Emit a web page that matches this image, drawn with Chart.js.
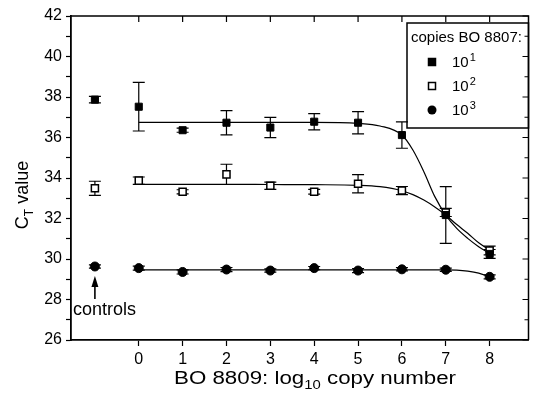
<!DOCTYPE html>
<html>
<head>
<meta charset="utf-8">
<script src="https://cdn.jsdelivr.net/npm/chart.js@4/dist/chart.umd.min.js"></script>
<style>
  body { margin: 0; background: #fff; }
  canvas { display: block; }
</style>
</head>
<body>
<canvas id="ctChart" width="535" height="403"></canvas>
<script>
// x = -1 is the "controls" column, 0..8 = log10 copy number of BO 8809
const doseX = [-1, 0, 1, 2, 3, 4, 5, 6, 7, 8];
const xTickValues = [0, 1, 2, 3, 4, 5, 6, 7, 8];

// measured CT values (copies BO 8807: 10^1, 10^2, 10^3)
const ct10 = [37.87, 37.52, 36.36, 36.73, 36.49, 36.78, 36.73, 36.12, 32.17, 30.25];
const err10 = [0.16, 1.2, 0.1, 0.6, 0.5, 0.4, 0.55, 0.65, 1.4, 0.22];
const ct100 = [33.49, 33.87, 33.32, 34.18, 33.62, 33.32, 33.72, 33.38, 32.3, 30.42];
const err100 = [0.35, 0.18, 0.1, 0.5, 0.18, 0.12, 0.45, 0.2, 0.2, 0.22];
const ct1000 = [29.63, 29.55, 29.36, 29.48, 29.43, 29.55, 29.43, 29.49, 29.47, 29.12];
const err1000 = [0.08, 0.1, 0.1, 0.1, 0.08, 0.08, 0.1, 0.08, 0.08, 0.1];

// fitted curves
const fitX = [0, 1, 2, 3, 4, 5, 5.5, 6, 6.25, 6.5, 6.75, 7, 7.25, 7.5, 7.75, 8];
const fit10 = [36.75, 36.75, 36.75, 36.75, 36.75, 36.7, 36.57, 36.12, 35.38, 34.31, 33.08, 32.17, 31.51, 31.02, 30.61, 30.28];
const fit100 = [33.69, 33.69, 33.69, 33.68, 33.67, 33.64, 33.57, 33.37, 33.18, 32.91, 32.57, 32.17, 31.7, 31.27, 30.8, 30.44];
const fit1000 = [29.46, 29.46, 29.46, 29.46, 29.46, 29.46, 29.46, 29.46, 29.46, 29.46, 29.46, 29.46, 29.45, 29.4, 29.3, 29.12];

const yTickValues = [];
for (let v = 26; v <= 42; v++) yTickValues.push(v);

const legendLabels = ['1', '2', '3']; // superscripts of 10

const FONT = '"Liberation Sans", Arial, Helvetica, sans-serif';

function pts(xs, ys) {
    return xs.map((x, i) => ({ x: x, y: ys[i] }));
}

const errorSets = [
    { vals: ct10, errs: err10 },
    { vals: ct100, errs: err100 },
    { vals: ct1000, errs: err1000 },
];

function drawMarker(ctx, kind, x, y) {
    ctx.lineWidth = 1.5;
    ctx.strokeStyle = '#000';
    if (kind === 'circle') {
        ctx.beginPath();
        ctx.arc(x, y, 4.5, 0, Math.PI * 2);
        ctx.fillStyle = '#000';
        ctx.fill();
    } else {
        ctx.fillStyle = kind === 'open' ? '#fff' : '#000';
        ctx.fillRect(x - 3.5, y - 3.5, 7, 7);
        ctx.strokeRect(x - 3.5, y - 3.5, 7, 7);
    }
}

// legend box goes under the data, error bars too
const underlay = {
    id: 'underlay',
    beforeDatasetsDraw(chart) {
        const ctx = chart.ctx;
        const a = chart.chartArea;
        const xs = chart.scales.x, ys = chart.scales.y;
        ctx.save();

        // legend
        const lx = 407, ly = 23, lw = a.right - 407, lh = 105;
        ctx.strokeStyle = '#000';
        ctx.lineWidth = 1.5;
        ctx.strokeRect(lx, ly, lw, lh);
        ctx.fillStyle = '#000';
        ctx.font = '15px ' + FONT;
        ctx.textBaseline = 'alphabetic';
        ctx.textAlign = 'left';
        ctx.fillText('copies BO 8807:', 411, 42);
        const kinds = ['filled', 'open', 'circle'];
        const rowY = [62, 86, 110];
        kinds.forEach((k, i) => {
            drawMarker(ctx, k, 432, rowY[i]);
            ctx.fillStyle = '#000';
            ctx.font = '15px ' + FONT;
            ctx.fillText('10', 452, rowY[i] + 5);
            const w = ctx.measureText('10').width;
            ctx.font = '11px ' + FONT;
            ctx.fillText(legendLabels[i], 452 + w + 1, rowY[i] - 1);
        });

        // error bars
        ctx.strokeStyle = '#000';
        ctx.lineWidth = 1.2;
        errorSets.forEach(set => {
            set.vals.forEach((v, i) => {
                const px = xs.getPixelForValue(doseX[i]);
                const top = ys.getPixelForValue(v + set.errs[i]);
                const bot = ys.getPixelForValue(v - set.errs[i]);
                ctx.beginPath();
                ctx.moveTo(px, top); ctx.lineTo(px, bot);
                ctx.moveTo(px - 6, top); ctx.lineTo(px + 6, top);
                ctx.moveTo(px - 6, bot); ctx.lineTo(px + 6, bot);
                ctx.stroke();
            });
        });
        ctx.restore();
    }
};

function drawParts(ctx, parts, x, y, targetWidth) {
    let total = 0;
    parts.forEach(p => { ctx.font = p[1] + 'px ' + FONT; total += ctx.measureText(p[0]).width; });
    const k = targetWidth ? targetWidth / total : 1;
    ctx.save();
    ctx.translate(x, y);
    ctx.scale(k, 1);
    let tx = -total / 2;
    parts.forEach(p => {
        ctx.font = p[1] + 'px ' + FONT;
        ctx.fillText(p[0], tx, p[2]);
        tx += ctx.measureText(p[0]).width;
    });
    ctx.restore();
}

const decorations = {
    id: 'decorations',
    afterDraw(chart) {
        const ctx = chart.ctx;
        const a = chart.chartArea;
        const xs = chart.scales.x, ys = chart.scales.y;
        ctx.save();
        ctx.strokeStyle = '#000';
        ctx.fillStyle = '#000';

        // top and right frame with inward ticks
        ctx.lineWidth = 1.5;
        ctx.beginPath();
        ctx.moveTo(a.left, a.top); ctx.lineTo(a.right, a.top); ctx.lineTo(a.right, a.bottom);
        ctx.stroke();
        ctx.lineWidth = 1.2;
        ctx.beginPath();
        xTickValues.forEach(v => {
            const px = xs.getPixelForValue(v);
            ctx.moveTo(px, a.top); ctx.lineTo(px, a.top + 6);
        });
        yTickValues.forEach(v => {
            const py = ys.getPixelForValue(v);
            const len = v % 2 === 0 ? 6 : 4;
            ctx.moveTo(a.right, py); ctx.lineTo(a.right - len, py);
        });
        ctx.stroke();

        // "controls" arrow and label
        const cx = xs.getPixelForValue(-1);
        ctx.lineWidth = 1.6;
        ctx.beginPath();
        ctx.moveTo(cx, 299); ctx.lineTo(cx, 283);
        ctx.stroke();
        ctx.beginPath();
        ctx.moveTo(cx, 276); ctx.lineTo(cx - 3.5, 287); ctx.lineTo(cx + 3.5, 287);
        ctx.closePath();
        ctx.fill();
        ctx.font = '18px ' + FONT;
        ctx.textAlign = 'left';
        ctx.fillText('controls', 73, 315);

        // y title: C_T value
        ctx.save();
        ctx.translate(28, 195);
        ctx.rotate(-Math.PI / 2);
        drawParts(ctx, [['C', 18, 0], ['T', 12, 5], [' value', 18, 0]], 0, 0, 0);
        ctx.restore();

        // x title: BO 8809: log10 copy number
        drawParts(ctx, [['BO 8809: log', 18, 0], ['10', 12, 5], [' copy number', 18, 0]], 315, 384, 282);
        ctx.restore();
    }
};

const ctx = document.getElementById('ctChart').getContext('2d');
const chart = new Chart(ctx, {
    type: 'scatter',
    data: {
        datasets: [
            {
                label: '10^1',
                data: pts(doseX, ct10),
                pointStyle: 'rect',
                pointRadius: 5,
                backgroundColor: '#000',
                borderColor: '#000',
                borderWidth: 1,
            },
            {
                label: '10^2',
                data: pts(doseX, ct100),
                pointStyle: 'rect',
                pointRadius: 5,
                backgroundColor: '#fff',
                borderColor: '#000',
                borderWidth: 1.5,
            },
            {
                label: '10^3',
                data: pts(doseX, ct1000),
                pointStyle: 'circle',
                pointRadius: 4.5,
                backgroundColor: '#000',
                borderColor: '#000',
                borderWidth: 1,
            },
            {
                label: 'fit 10^1',
                data: pts(fitX, fit10),
                showLine: true,
                pointRadius: 0,
                borderColor: '#000',
                borderWidth: 1.2,
                cubicInterpolationMode: 'monotone',
            },
            {
                label: 'fit 10^2',
                data: pts(fitX, fit100),
                showLine: true,
                pointRadius: 0,
                borderColor: '#000',
                borderWidth: 1.2,
                cubicInterpolationMode: 'monotone',
            },
            {
                label: 'fit 10^3',
                data: pts(fitX, fit1000),
                showLine: true,
                pointRadius: 0,
                borderColor: '#000',
                borderWidth: 1.2,
                cubicInterpolationMode: 'monotone',
            },
        ]
    },
    options: {
        responsive: false,
        animation: false,
        devicePixelRatio: 1,
        layout: { padding: { top: 16, right: 5, left: 0, bottom: 0 } },
        plugins: {
            legend: { display: false },
            tooltip: { enabled: false },
        },
        scales: {
            x: {
                type: 'linear',
                min: -1.545,
                max: 8.886,
                afterBuildTicks: s => { s.ticks = xTickValues.map(v => ({ value: v })); },
                afterFit: s => { s.height = 63; },
                grid: { drawOnChartArea: false, tickLength: 6, color: '#000', tickWidth: 1.2 },
                border: { color: '#000', width: 1.8 },
                ticks: {
                    color: '#000',
                    font: { family: FONT, size: 16 },
                    padding: 4,
                    maxRotation: 0,
                },
            },
            y: {
                min: 26,
                max: 42,
                afterBuildTicks: s => { s.ticks = yTickValues.map(v => ({ value: v })); },
                afterFit: s => { s.width = 71; },
                grid: { drawOnChartArea: false, tickLength: 5, color: '#000', tickWidth: 1.2 },
                border: { color: '#000', width: 1.8 },
                ticks: {
                    color: '#000',
                    font: { family: FONT, size: 16 },
                    padding: 4,
                    autoSkip: false,
                    callback: v => (v % 2 === 0 ? String(v) : ''),
                },
            },
        },
    },
    plugins: [underlay, decorations],
});
</script>
</body>
</html>
